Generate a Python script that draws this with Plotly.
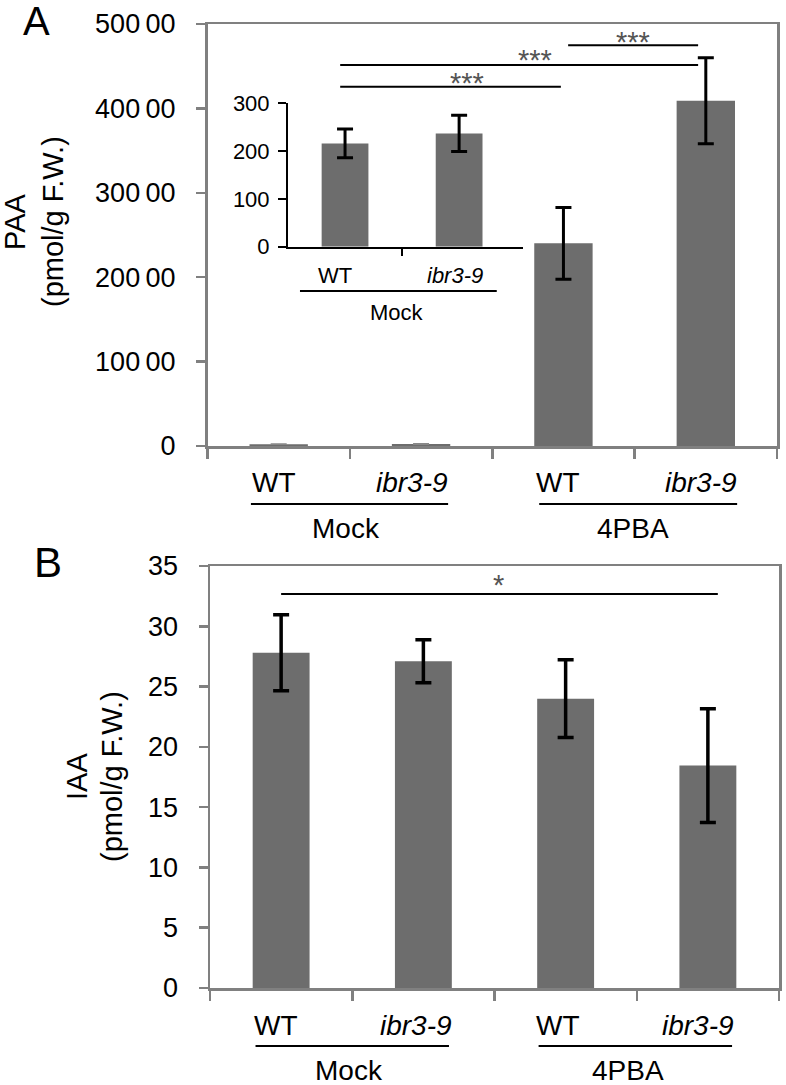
import plotly.graph_objects as go

W, H = 786, 1085
OFF = 0  # page body margin is removed below, so figure pixels equal window pixels
FONT = "Liberation Sans"

# ---------------- data ----------------
genotypes = ["WT", "ibr3-9", "WT", "ibr3-9"]
treatments = ["Mock", "4PBA"]
paa_mean = [216, 237, 24020, 40910]
paa_err = [30, 38, 4250, 5100]
iaa_mean = [27.8, 27.1, 24.0, 18.45]
iaa_err = [3.15, 1.78, 3.23, 4.72]
paa_ticks = [0, 10000, 20000, 30000, 40000, 50000]
paa_ticktext = ["0", "100\u200900", "200\u200900", "300\u200900", "400\u200900", "500\u200900"]
inset_ticks = [0, 100, 200, 300]
iaa_ticks = [0, 5, 10, 15, 20, 25, 30, 35]
# significance brackets: (stars, x0, x1, y of line, x of stars, y of stars) in data units
paa_sig = [("***", 2.033, 2.946, 47476, 2.49, 47830),
           ("***", 0.432, 2.946, 45142, 1.80, 45770),
           ("***", 0.432, 1.982, 42571, 1.32, 43040)]
iaa_sig = [("*", 0.0, 3.07, 32.67, 1.525, 33.44)]

BAR = "#6d6d6d"
AX = "#808080"


def xp(px):
    return (px - OFF) / W


def yp(py):
    return 1 - (py - OFF) / H


fig = go.Figure()
idx = list(range(len(genotypes)))

# Panel A main
fig.add_trace(go.Bar(x=idx[:2], y=paa_mean[:2], width=0.41, marker=dict(color=BAR, line=dict(width=0)),
                     error_y=dict(type="data", array=paa_err[:2], color="#888888", thickness=1.2, width=8),
                     xaxis="x", yaxis="y", showlegend=False))
fig.add_trace(go.Bar(x=idx[2:], y=paa_mean[2:], width=0.41, marker=dict(color=BAR, line=dict(width=0)),
                     error_y=dict(type="data", array=paa_err[2:], color="black", thickness=3, width=8),
                     xaxis="x", yaxis="y", showlegend=False))
# Inset
fig.add_trace(go.Bar(x=[0, 1], y=paa_mean[:2], width=0.41, marker=dict(color=BAR, line=dict(width=0)),
                     error_y=dict(type="data", array=paa_err[:2], color="black", thickness=3, width=8),
                     xaxis="x2", yaxis="y2", showlegend=False))
# Panel B
fig.add_trace(go.Bar(x=idx, y=iaa_mean, width=0.40, marker=dict(color=BAR, line=dict(width=0)),
                     error_y=dict(type="data", array=iaa_err, color="black", thickness=3.5, width=8),
                     xaxis="x3", yaxis="y3", showlegend=False))

main_x = dict(tickmode="array", tickvals=[-0.5, 0.5, 1.5, 2.5, 3.5], ticks="outside", ticklen=10,
              tickwidth=2.5, tickcolor=AX, showticklabels=False, showline=True, linecolor=AX,
              linewidth=2.5, mirror=True, showgrid=False, zeroline=False, range=[-0.5, 3.5],
              automargin=False)
main_y = dict(tickmode="array", ticks="outside", ticklen=9, tickwidth=2.5, tickcolor=AX,
              showline=True, linecolor=AX, linewidth=2.5, mirror=True, showgrid=False, zeroline=False,
              tickfont=dict(family=FONT, size=27, color="black"), ticklabelstandoff=15,
              automargin=False)

fig.update_layout(
    template="none",
    width=W, height=H, margin=dict(l=0, r=0, t=0, b=0, pad=0, autoexpand=False),
    paper_bgcolor="white", plot_bgcolor="rgba(0,0,0,0)",
    barmode="overlay", font=dict(family=FONT, color="black"),
    xaxis=dict(main_x, domain=[xp(207.5), xp(777)], anchor="y"),
    yaxis=dict(main_y, domain=[yp(446), yp(24)], anchor="x", range=[0, 50000],
               tickvals=paa_ticks, ticktext=paa_ticktext),
    xaxis2=dict(domain=[xp(288), xp(523)], anchor="y2", range=[-0.5, 1.56], tickmode="array",
                tickvals=[0.5], ticks="outside", ticklen=7, tickwidth=2, tickcolor="black",
                showticklabels=False, showline=True, linecolor="black", linewidth=2,
                showgrid=False, zeroline=False, automargin=False),
    yaxis2=dict(domain=[yp(246.7), yp(103.3)], anchor="x2", range=[0, 300], tickmode="array",
                tickvals=inset_ticks, ticks="outside", ticklen=8, tickwidth=2, tickcolor="black",
                showline=True, linecolor="black", linewidth=2, showgrid=False, zeroline=False,
                tickfont=dict(family=FONT, size=22, color="black"), ticklabelstandoff=4,
                automargin=False),
    xaxis3=dict(main_x, domain=[xp(210), xp(779)], anchor="y3"),
    yaxis3=dict(main_y, domain=[yp(988), yp(566)], anchor="x3", range=[0, 35],
                tickvals=iaa_ticks),
)

ann = []
shapes = []


def label(text, x, xref, y, size, xshift=0, italic=False, color="black", yref="paper"):
    t = f"<i>{text}</i>" if italic else text
    ann.append(dict(text=t, x=x, xref=xref, y=y, yref=yref, showarrow=False, xanchor="center",
                    yanchor="middle", xshift=xshift, font=dict(family=FONT, size=size, color=color)))


def hline(x0, x1, xref, y, yref="paper", width=2, color="black"):
    shapes.append(dict(type="line", x0=x0, x1=x1, xref=xref, y0=y, y1=y, yref=yref,
                       line=dict(color=color, width=width)))


# Panel A category labels
a_shift = [-4.5, -9, -5, -5]
for i, g in enumerate(genotypes):
    label(g, i, "x", yp(482.7), 28, a_shift[i], italic=(g != "WT"))
label(treatments[0], 0.5, "x", yp(528), 28, -3.7)
label(treatments[1], 2.5, "x", yp(528), 28, -1.8)
hline(-0.195, 1.19, "x", yp(504))
hline(1.83, 3.22, "x", yp(504))

# Panel B category labels
b_shift = [-5.3, -7.4, -7.6, -9.9]
for i, g in enumerate(genotypes):
    label(g, i, "x3", yp(1025), 28, b_shift[i], italic=(g != "WT"))
label(treatments[0], 0.5, "x3", yp(1070), 28, -3.1)
label(treatments[1], 2.5, "x3", yp(1070), 28, -9.1)
hline(-0.18, 1.18, "x3", yp(1046))
hline(1.81, 3.17, "x3", yp(1046))

# Inset labels
label(genotypes[0], 0, "x2", yp(275), 22, -10)
label(genotypes[1], 1, "x2", yp(275), 22, -4, italic=True)
hline(-0.395, 1.33, "x2", yp(291))
label(treatments[0], 0.5, "x2", yp(312), 22, -5)

# Significance
for s, x0, x1, yl, xs, ys in paa_sig:
    hline(x0, x1, "x", yl, yref="y")
    label(s, xs, "x", ys, 29, yref="y", color="#555555")
for s, x0, x1, yl, xs, ys in iaa_sig:
    hline(x0, x1, "x3", yl, yref="y3")
    label(s, xs, "x3", ys, 29, yref="y3", color="#555555")

# Axis titles
for txt, xpx, ypx in [("PAA", 15, 222), ("(pmol/g F.W.)", 53, 222),
                      ("IAA", 77, 777), ("(pmol/g F.W.)", 112, 777)]:
    ann.append(dict(text=txt, x=xp(xpx), y=yp(ypx), xref="paper", yref="paper", showarrow=False,
                    textangle=-90, xanchor="center", yanchor="middle",
                    font=dict(family=FONT, size=29, color="black")))

# Panel letters
ann.append(dict(text="A", x=xp(36), y=yp(21), xref="paper", yref="paper", showarrow=False,
                xanchor="center", yanchor="middle", font=dict(family=FONT, size=40, color="black")))
ann.append(dict(text="B", x=xp(48), y=yp(562), xref="paper", yref="paper", showarrow=False,
                xanchor="center", yanchor="middle", font=dict(family=FONT, size=42, color="black")))

fig.update_layout(annotations=ann, shapes=shapes)
fig.write_html("out.html", config={"displayModeBar": False, "staticPlot": True},
               post_script="document.body.style.margin='0px';")
